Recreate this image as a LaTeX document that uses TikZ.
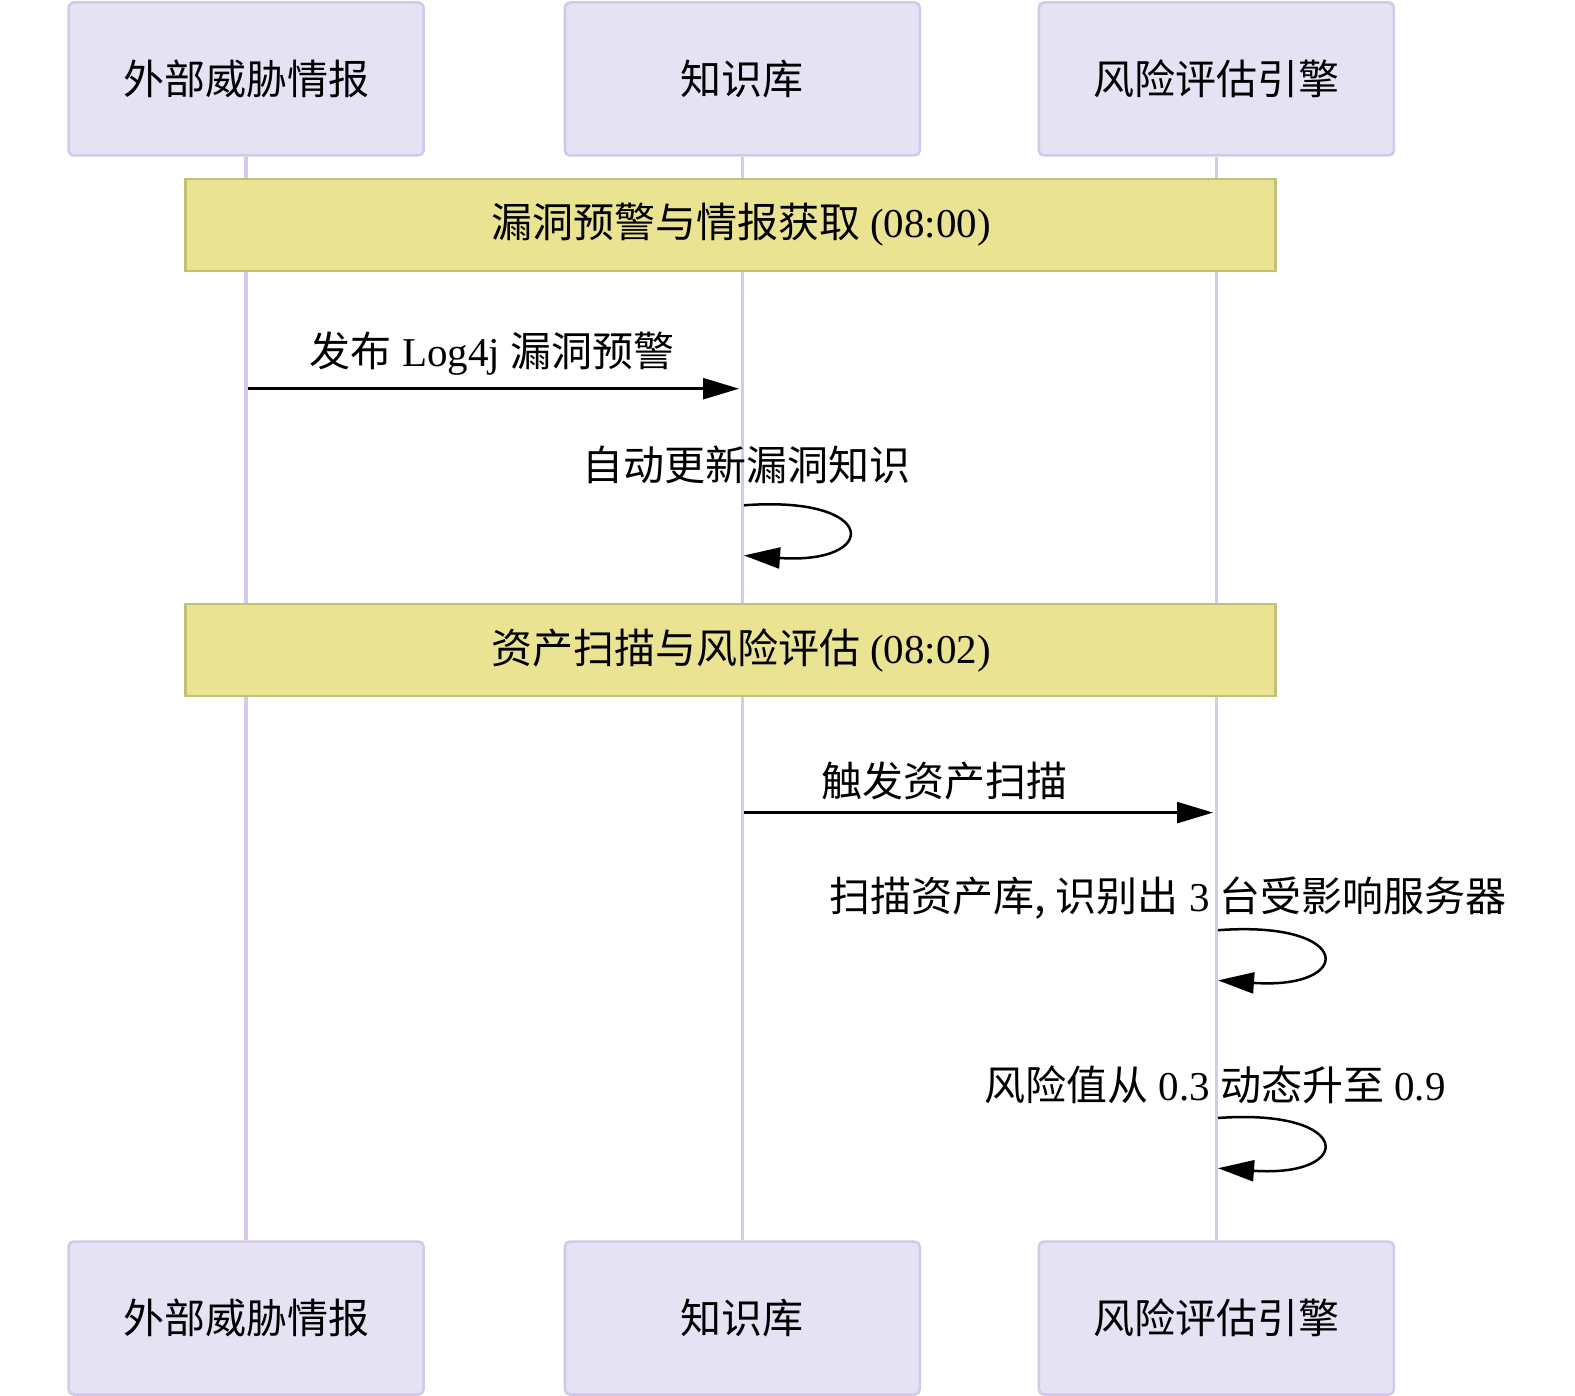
\documentclass[tikz,border=0pt]{standalone}
\usepackage{fontspec}
\setmainfont{Liberation Serif}
\newfontfamily\cjk{Noto Sans CJK SC}
\usetikzlibrary{arrows.meta}
\definecolor{actfill}{HTML}{E5E2F4}
\definecolor{actdraw}{HTML}{D2C8EA}
\definecolor{lifeline}{HTML}{D6C9EA}
\definecolor{notefill}{HTML}{EAE392}
\definecolor{notedraw}{HTML}{BFC174}
\tikzset{
  actor/.style={draw=actdraw, line width=2.5pt, fill=actfill, rounded corners=5pt, minimum width=355pt, minimum height=153pt, inner sep=0pt, font=\fontsize{41}{48}\selectfont\cjk},
  notebox/.style={draw=notedraw, line width=2.5pt, fill=notefill, minimum width=1090pt, minimum height=92pt, inner sep=0pt},
  life/.style={draw=lifeline, line width=3.5pt},
  msg/.style={draw=black, line width=2.5pt, -{Triangle[length=36pt,width=21pt]}},
  lbl/.style={font=\fontsize{41}{48}\selectfont, inner sep=0pt}
}
\begin{document}
\begin{tikzpicture}[x=1pt,y=-1pt]
\useasboundingbox (0,0) rectangle (1575,1396);
% actors
\node[actor] (a1) at (246.1,79) {外部威胁情报};
\node[actor] (a2) at (742.3,79) {知识库};
\node[actor] (a3) at (1216.4,79) {风险评估引擎};
\node[actor] (b1) at (246.1,1318) {外部威胁情报};
\node[actor] (b2) at (742.3,1318) {知识库};
\node[actor] (b3) at (1216.4,1318) {风险评估引擎};
% lifelines
\draw[life] (a1.south) -- (b1.north);
\draw[life] (a2.south) -- (b2.north);
\draw[life] (a3.south) -- (b3.north);
% notes
\node[notebox] (n1) at (730.7,225) {};
\node[lbl] (n1t) at (741,225) {{\cjk 漏洞预警与情报获取} (08:00)};
\node[notebox] (n2) at (730.7,650) {};
\node[lbl] (n2t) at (741,650) {{\cjk 资产扫描与风险评估} (08:02)};
% coordinates on lifelines
\coordinate (m1s) at (248,388.7);
\coordinate (m1e) at (739,388.7);
\coordinate (l1s) at (744,505.3);
\coordinate (l1e) at (744,555.5);
\coordinate (m2s) at (744,812.6);
\coordinate (m2e) at (1213,812.6);
\coordinate (l2s) at (1218,930.2);
\coordinate (l2e) at (1218,980.4);
\coordinate (l3s) at (1218,1118);
\coordinate (l3e) at (1218,1168.2);
% messages
\draw[msg] (m1s) -- (m1e);
\node[lbl] (t1) at (492,353.6) {{\cjk 发布} Log4j {\cjk 漏洞预警}};
\draw[msg] (l1s) .. controls (880,495) and (880,565) .. (l1e);
\node[lbl] (t2) at (746,465.1) {\cjk 自动更新漏洞知识};
\draw[msg] (m2s) -- (m2e);
\node[lbl] (t3) at (944,780.5) {\cjk 触发资产扫描};
\draw[msg] (l2s) .. controls (1355,920) and (1355,990) .. (l2e);
\node[lbl] (t4) at (1168,898) {{\cjk 扫描资产库,} {\cjk 识别出} 3 {\cjk 台受影响服务器}};
\draw[msg] (l3s) .. controls (1355,1108) and (1355,1178) .. (l3e);
\node[lbl] (t5) at (1215,1084.9) {{\cjk 风险值从} 0.3 {\cjk 动态升至} 0.9};
\end{tikzpicture}
\end{document}
